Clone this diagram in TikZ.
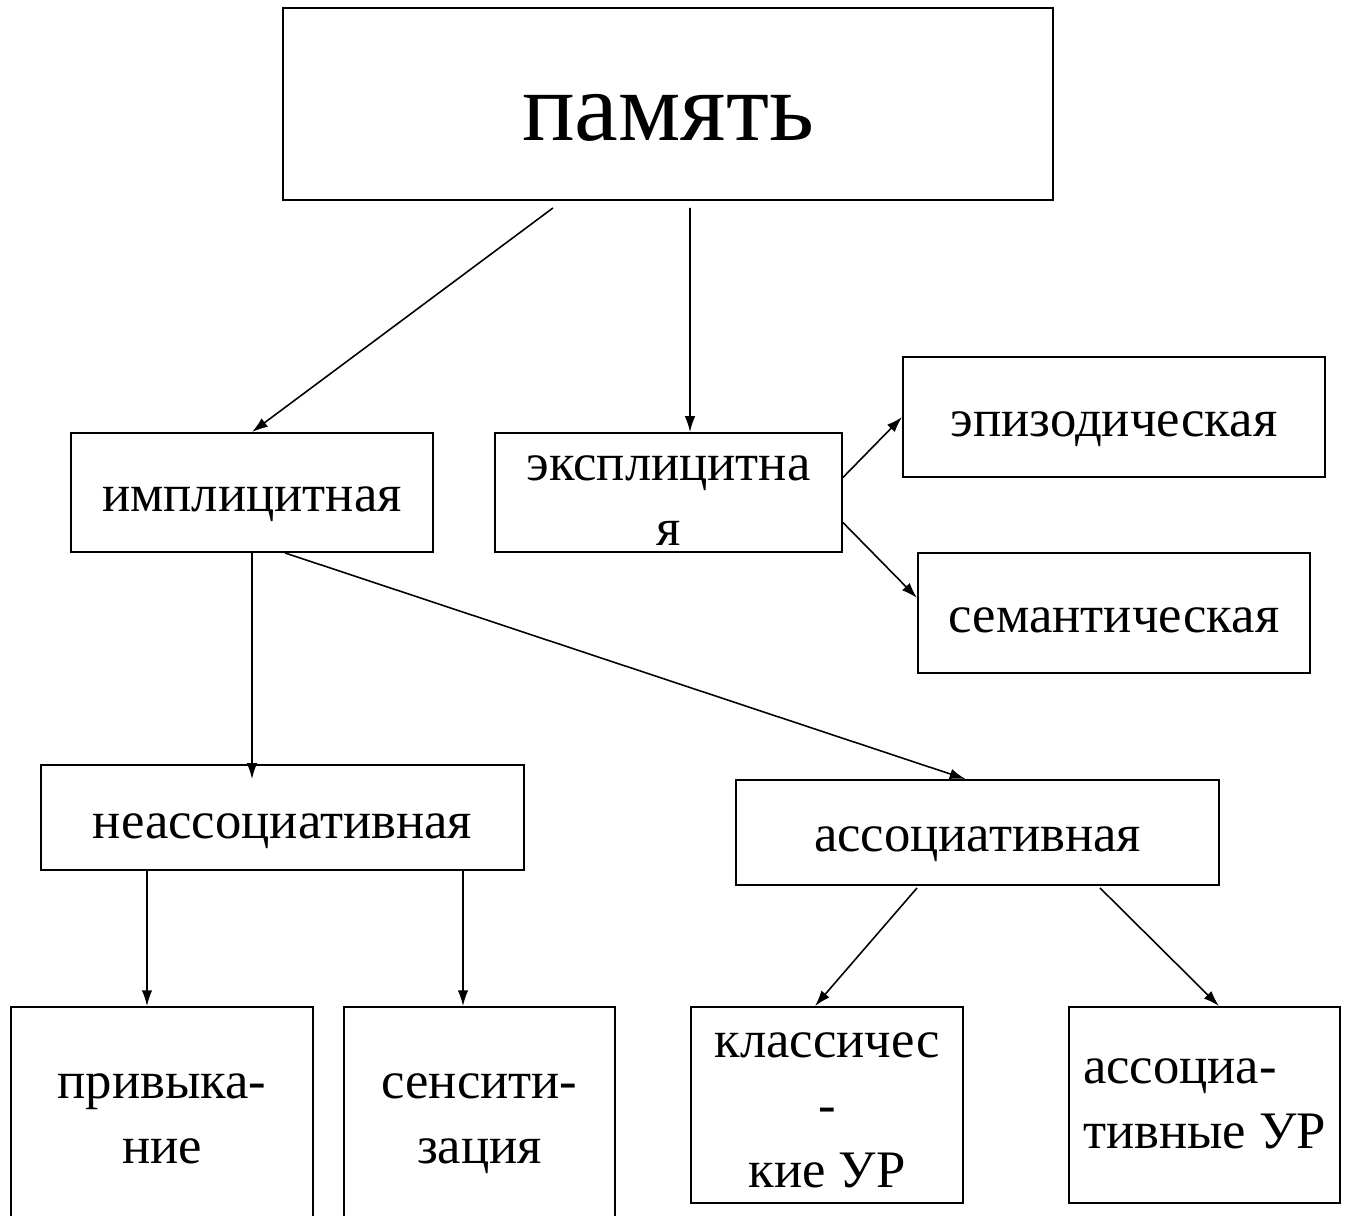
\documentclass[tikz,border=0pt]{standalone}
\usepackage{fontspec}
\setmainfont{Liberation Serif}
\usetikzlibrary{arrows.meta}
\tikzstyle{box} = [draw=black, line width=1.1pt, align=center, inner sep=0pt, text height=22pt, text depth=0pt, font=\fontsize{30}{37}\selectfont]
\tikzstyle{arr} = [-{Latex[length=9pt,width=6pt]}, line width=0.9pt]

\begin{document}
\begin{tikzpicture}[x=0.02cm, y=-0.02cm]%
			\clip (0,0) rectangle (1352,1216);%
			\fill[white] (0,0) rectangle (1352,1216);%
			% top
			\node[box, minimum width=15.4cm, minimum height=3.84cm, text height=41pt, font=\fontsize{56}{67}\selectfont] (pamyat) at (668,104) {память};%
			% second row
			\node[box, minimum width=7.24cm, minimum height=2.38cm] (impl) at (252,492.5) {имплицитная};%
			\node[box, minimum width=6.94cm, minimum height=2.38cm, text height=62pt, text depth=2pt] (expl) at (668.5,492.5) {эксплицитна\\я};%
			\node[box, minimum width=8.44cm, minimum height=2.4cm] (epis) at (1114,417) {эпизодическая};%
			\node[box, minimum width=7.84cm, minimum height=2.4cm] (sem) at (1114,613) {семантическая};%
			% third row
			\node[box, minimum width=9.66cm, minimum height=2.1cm, text height=24pt] (neass) at (282.5,817.5) {неассоциативная};%
			\node[box, minimum width=9.66cm, minimum height=2.1cm] (ass) at (977.5,832.5) {ассоциативная};%
			% bottom row
			\node[box, minimum width=6.04cm, minimum height=4.52cm, text height=50pt, text depth=1pt] (priv) at (162,1120) {привыка-\\ние};%
			\node[box, minimum width=5.42cm, minimum height=4.52cm, text height=50pt, text depth=1pt] (sens) at (479.5,1120) {сенсити-\\зация};%
			\node[box, minimum width=5.44cm, minimum height=3.92cm, text height=95pt, text depth=1pt] (klass) at (827,1105) {классичес\\-\\кие УР};%
			\node[box, minimum width=5.42cm, minimum height=3.92cm, text height=50pt, text depth=1pt, align=left] (assur) at (1204.5,1105) {ассоциа-\\тивные УР};%
			% arrows
			\draw[arr] ([shift={(-115,7)}]pamyat.south) -- (impl.north);%
			\draw[arr] ([shift={(22,7)}]pamyat.south) -- ([shift={(21.5,0)}]expl.north);%
			\draw[arr] ([shift={(0,-15)}]expl.east) -- (epis.west);%
			\draw[arr] ([shift={(0,30)}]expl.east) -- ([shift={(0,-15)}]sem.west);%
			\draw[arr] (impl.south) -- ([shift={(-30.5,15)}]neass.north);%
			\draw[arr] ([shift={(33,0)}]impl.south) -- ([shift={(-12,0)}]ass.north);%
			\draw[arr] ([shift={(-135.5,0)}]neass.south) -- ([shift={(-15,0)}]priv.north);%
			\draw[arr] ([shift={(180.5,0)}]neass.south) -- ([shift={(-16.5,0)}]sens.north);%
			\draw[arr] ([shift={(-60.5,2)}]ass.south) -- ([shift={(-12,0)}]klass.north);%
			\draw[arr] ([shift={(122.5,2)}]ass.south) -- ([shift={(14.5,0)}]assur.north);%
		\end{tikzpicture}
\end{document}
